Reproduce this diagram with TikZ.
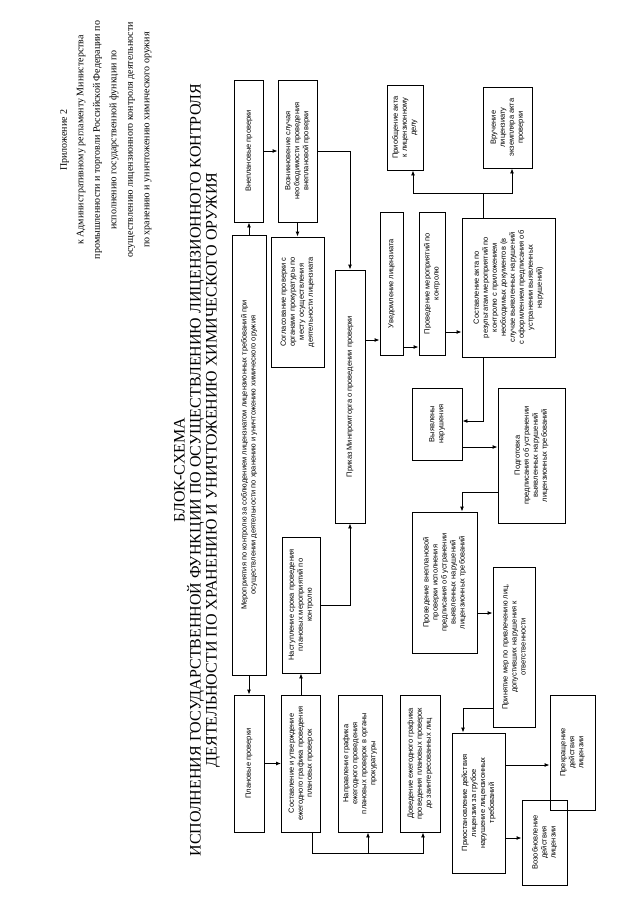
\documentclass[tikz,border=0pt]{standalone}
\usepackage{fontspec}
\setmainfont{Liberation Serif}
\setsansfont{Liberation Sans}
\usetikzlibrary{arrows.meta}

\begin{document}
\begin{tikzpicture}[x=1pt,y=-1pt,
        bx/.style={draw,line width=0.9pt,rotate=90,align=center,inner sep=1pt,
                   font=\sffamily\fontsize{7.5}{9}\selectfont},
        ar/.style={-{Latex[length=5pt,width=4pt]},line width=0.9pt},
        hd/.style={rotate=90,align=center,inner sep=0pt}]
      \fill[white] (0,0) rectangle (640,905);
      \useasboundingbox (0,0) rectangle (640,905);
      % header and title
      \node[hd,font=\fontsize{10}{16.5}\selectfont] (head) at (106,140)
        {Приложение 2\\к Административному регламенту Министерства\\
         промышленности и торговли Российской Федерации по\\
         исполнению государственной функции по\\
         осуществлению лицензионного контроля деятельности\\
         по хранению и уничтожению химического оружия};
      \node[hd,font=\fontsize{16}{16}\selectfont] (title) at (197,470)
        {БЛОК-СХЕМА\\
         ИСПОЛНЕНИЯ ГОСУДАРСТВЕННОЙ ФУНКЦИИ ПО ОСУЩЕСТВЛЕНИЮ ЛИЦЕНЗИОННОГО КОНТРОЛЯ\\
         ДЕЯТЕЛЬНОСТИ ПО ХРАНЕНИЮ И УНИЧТОЖЕНИЮ ХИМИЧЕСКОГО ОРУЖИЯ};
      % boxes
      \node[bx,minimum width=142pt,minimum height=29pt] (vnep) at (249,151) {Внеплановые проверки};
      \node[bx,minimum width=142pt,minimum height=39pt] (vozn) at (297.5,151)
        {Возникновение случая\\необходимости проведения\\внеплановой проверки};
      \node[bx,minimum width=440pt,minimum height=34pt] (mer) at (249,455)
        {Мероприятия по контролю за соблюдением лицензиатом лицензионных требований при\\
         осуществлении деятельности по хранению и уничтожению химического оружия};
      \node[bx,minimum width=130pt,minimum height=53pt] (sogl) at (297.5,302)
        {Согласование проверки с\\органами прокуратуры по\\месту осуществления\\деятельности лицензиата};
      \node[bx,minimum width=253pt,minimum height=30pt] (prik) at (350,396.5)
        {Приказ Минпромторга о проведении проверки};
      \node[bx,minimum width=136pt,minimum height=38pt] (nast) at (301,605)
        {Наступление срока проведения\\плановых мероприятий по\\контролю};
      \node[bx,minimum width=137pt,minimum height=30pt] (plan) at (249,763.5) {Плановые проверки};
      \node[bx,minimum width=137pt,minimum height=39pt] (sost) at (301,763.5)
        {Составление и утверждение\\ежегодного графика проведения\\плановых проверок};
      \node[bx,minimum width=137pt,minimum height=44pt] (napr) at (360,763.5)
        {Направление графика\\ежегодного проведения\\плановых проверок в органы\\прокуратуры};
      \node[bx,minimum width=137pt,minimum height=40pt] (dov) at (420,763.5)
        {Доведение ежегодного графика\\проведения плановых проверок\\до заинтересованных лиц};
      \node[bx,minimum width=143pt,minimum height=23pt] (uved) at (391.5,283.5) {Уведомление лицензиата};
      \node[bx,minimum width=143pt,minimum height=26pt] (prov) at (432,283.5)
        {Проведение мероприятий по\\контролю};
      \node[bx,minimum width=139pt,minimum height=93pt] (akt) at (508.5,287.5)
        {Составление акта по\\результатам мероприятий по\\контролю с приложением\\
         необходимых документов (в\\случае выявленных нарушений\\с оформлением предписания об\\
         устранении выявленных\\нарушений)};
      \node[bx,minimum width=85pt,minimum height=36pt] (prio) at (405,127.5)
        {Приобщение акта\\к лицензионному\\делу};
      \node[bx,minimum width=81pt,minimum height=49pt] (vruch) at (507.5,127.5)
        {Вручение\\лицензиату\\экземпляра акта\\проверки};
      \node[bx,minimum width=72pt,minimum height=50pt] (vyyav) at (437,424) {Выявлены\\нарушения};
      \node[bx,minimum width=135pt,minimum height=67pt] (podg) at (531.5,455.5)
        {Подготовка\\предписания об устранении\\выявленных нарушений\\лицензионных требований};
      \node[bx,minimum width=141pt,minimum height=65pt] (vnepr) at (444.5,582.5)
        {Проведение внеплановой\\проверки исполнения\\предписания об устранении\\выявленных нарушений\\лицензионных требований};
      \node[bx,minimum width=160pt,minimum height=42pt] (prin) at (514,647)
        {Принятие мер по привлечению лиц,\\допустивших нарушения к\\ответственности};
      \node[bx,minimum width=140pt,minimum height=53pt] (pst) at (478.5,803)
        {Приостановление действия\\лицензии за грубое\\нарушение лицензионных\\требований};
      \node[bx,minimum width=115pt,minimum height=45pt] (prek) at (572.5,752.5)
        {Прекращение\\действия\\лицензии};
      \node[bx,minimum width=85pt,minimum height=45pt] (vozob) at (544.5,842.5)
        {Возобновление\\действия\\лицензии};
      % connectors
      \coordinate (br) at (483,193);
      \coordinate (bt) at (312,853);
      \draw[ar] (mer.east) -- (vnep.west);
      \draw[ar] (vnep.south) -- (vozn.north);
      \draw[ar] (vozn.west) -- (sogl.east);
      \draw[ar] (vozn.south) -| (prik.east);
      \draw[ar] (prik.south |- 0,340) -- (uved.north |- 0,340);
      \draw[ar] (uved.south |- 0,347) -- (prov.north |- 0,347);
      \draw[ar] (prov.south |- 0,332) -- (akt.north |- 0,332);
      \draw (akt.east -| br) -- (br);
      \draw[ar] (br) -| (prio.west -| 413,0);
      \draw[ar] (br) -| (vruch.west -| 512,0);
      \draw[ar] (akt.west -| br) |- (vyyav.south |- 0,421);
      \draw[ar] (vyyav.south |- 0,447) -- (podg.north |- 0,447);
      \draw[ar] (podg.north |- 0,492) -| (vnepr.east -| 462,0);
      \draw[ar] (vnepr.south |- 0,613) -- (prin.north |- 0,613);
      \draw[ar] (prin.north |- 0,708) -| (pst.east -| 463,0);
      \draw[ar] (pst.south |- 0,765) -- (prek.north |- 0,765);
      \draw[ar] (pst.south |- 0,838) -- (vozob.north |- 0,838);
      \draw[ar] (mer.west) -- (plan.east);
      \draw[ar] (plan.south) -- (sost.north);
      \draw[ar] (sost.east) -- (nast.west);
      \draw[ar] (nast.south) -| (prik.west);
      \draw (sost.west -| bt) -- (bt);
      \draw[ar] (bt) -| (napr.west -| 368,0);
      \draw[ar] (bt) -| (dov.west -| 423,0);
    \end{tikzpicture}
\end{document}
